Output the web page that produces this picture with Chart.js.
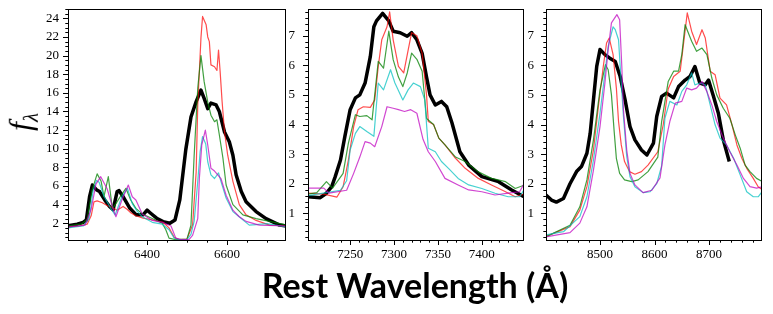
<!DOCTYPE html>
<html>
<head>
<meta charset="utf-8">
<script src="https://cdn.jsdelivr.net/npm/chart.js@4.4.1/dist/chart.umd.min.js"></script>
<style>
  html, body { margin: 0; padding: 0; background: #fff; }
  #fig { position: relative; width: 773px; height: 314px; overflow: hidden; }
  canvas { position: absolute; top: 0; }
  #ylab {
    position: absolute; left: 23px; top: 122px;
    transform: translate(-50%, -50%) rotate(-90deg);
    font-family: "Liberation Serif", serif; font-style: italic; font-size: 32px;
    white-space: nowrap; line-height: 1;
  }
  #ylab sub { font-size: 21px; }
  #xlab {
    position: absolute; left: 0; width: 830px; top: 265px; text-align: center;
    font-family: Lato, sans-serif; font-weight: 700; font-size: 34px; line-height: 40px;
  }
</style>
</head>
<body>
<div id="fig">
  <canvas id="haChart" width="290" height="275" style="left:0px"></canvas>
  <canvas id="caChart" width="288" height="275" style="left:240px"></canvas>
  <canvas id="irChart" width="288" height="275" style="left:478px"></canvas>
  <div id="ylab">f<sub>λ</sub></div>
  <div id="xlab">Rest Wavelength (Å)</div>
</div>
<script>
// Tick labels
const ha_xticks = [6400, 6600];
const ha_yticks = [2, 4, 6, 8, 10, 12, 14, 16, 18, 20, 22, 24];
const ca_xticks = [7250, 7300, 7350, 7400];
const ca_yticks = [1, 2, 3, 4, 5, 6, 7];
const ir_xticks = [8500, 8600, 8700];
const ir_yticks = [1, 2, 3, 4, 5, 6, 7];

// Panel 1: H-alpha region
const ha_black_wave = [6200, 6225, 6240, 6248, 6256, 6263, 6273, 6281, 6294, 6306, 6315, 6325, 6330, 6340, 6357, 6373, 6390, 6400, 6409, 6424, 6440, 6457, 6470, 6482, 6497, 6510, 6523, 6535, 6543, 6552, 6560, 6573, 6581, 6594, 6606, 6615, 6623, 6636, 6648, 6673, 6698, 6732, 6750];
const ha_black_flux = [1.7, 1.9, 2.1, 2.35, 4.85, 6.1, 5.6, 5.4, 4.5, 3.8, 3.45, 5.4, 5.5, 4.85, 3.6, 2.9, 2.9, 3.4, 3.07, 2.54, 2.17, 2.0, 2.35, 4.5, 9.9, 13.4, 15.05, 16.3, 15.4, 14.3, 14.9, 14.7, 14.0, 11.8, 10.75, 9.3, 7.2, 5.4, 4.3, 3.25, 2.5, 1.8, 1.7];
const ha_red_wave = [6200, 6230, 6250, 6260, 6267, 6275, 6288, 6300, 6312, 6325, 6340, 6350, 6360, 6372, 6390, 6415, 6440, 6455, 6468, 6480, 6500, 6514, 6523, 6527, 6535, 6539, 6548, 6552, 6556, 6560, 6569, 6575, 6579, 6583, 6588, 6594, 6602, 6615, 6631, 6648, 6673, 6707, 6750];
const ha_red_flux = [1.6, 1.7, 1.9, 2.8, 4.3, 4.4, 4.2, 3.9, 3.7, 3.4, 3.8, 3.5, 3.1, 2.8, 2.55, 2.35, 2.1, 1.5, 0.5, 0.25, 0.3, 1.8, 7.5, 14.7, 21.9, 24.2, 23.3, 22.0, 21.5, 19.0, 18.8, 18.4, 20.6, 18.3, 15.05, 11.8, 9.3, 6.5, 4.0, 2.9, 2.3, 1.8, 1.7];
const ha_green_wave = [6200, 6235, 6250, 6262, 6275, 6285, 6292, 6303, 6313, 6322, 6335, 6347, 6359, 6372, 6388, 6413, 6438, 6447, 6455, 6470, 6500, 6510, 6518, 6527, 6535, 6543, 6552, 6560, 6569, 6575, 6581, 6590, 6598, 6615, 6640, 6673, 6707, 6750];
const ha_green_flux = [1.7, 1.9, 2.4, 5.5, 7.3, 6.5, 4.85, 7.0, 3.6, 4.1, 5.0, 5.75, 4.5, 3.6, 3.0, 2.5, 2.0, 1.3, 0.4, 0.25, 0.3, 1.8, 9.3, 16.5, 20.0, 17.2, 15.0, 13.6, 12.9, 13.1, 11.5, 9.0, 6.1, 4.0, 2.9, 2.5, 2.2, 1.8];
const ha_cyan_wave = [6200, 6240, 6255, 6265, 6273, 6280, 6292, 6309, 6320, 6337, 6351, 6363, 6375, 6388, 6413, 6438, 6455, 6468, 6480, 6500, 6510, 6518, 6527, 6533, 6539, 6547, 6552, 6560, 6569, 6579, 6585, 6598, 6615, 6636, 6656, 6673, 6700, 6750];
const ha_cyan_flux = [1.5, 1.7, 2.5, 5.5, 6.6, 6.4, 4.9, 3.6, 2.9, 4.85, 5.75, 4.1, 3.3, 2.7, 2.1, 1.9, 1.3, 0.4, 0.25, 0.25, 0.8, 2.2, 6.5, 9.7, 11.3, 10.5, 8.6, 7.2, 6.8, 7.4, 6.5, 4.7, 3.25, 2.5, 1.8, 1.85, 1.95, 1.6];
const ha_magenta_wave = [6200, 6245, 6260, 6272, 6284, 6300, 6313, 6322, 6337, 6353, 6363, 6372, 6388, 6413, 6438, 6460, 6472, 6485, 6505, 6514, 6527, 6531, 6537, 6546, 6552, 6560, 6569, 6577, 6585, 6598, 6615, 6631, 6648, 6681, 6750];
const ha_magenta_flux = [1.6, 1.8, 3.5, 6.2, 7.0, 5.7, 3.8, 2.7, 4.5, 6.1, 4.85, 4.5, 3.0, 2.3, 2.1, 1.7, 0.4, 0.25, 0.25, 0.7, 2.5, 6.8, 10.4, 12.0, 10.4, 7.9, 7.6, 7.2, 6.8, 5.0, 3.4, 2.7, 2.2, 1.8, 1.7];

// Panel 2: 7300 region
const ca_black_wave = [7202, 7216, 7223, 7229, 7233, 7239, 7244, 7250, 7256, 7261, 7267, 7273, 7277, 7280, 7287, 7294, 7299, 7307, 7315, 7320, 7326, 7332, 7337, 7341, 7347, 7354, 7360, 7366, 7375, 7385, 7400, 7419, 7434, 7448];
const ca_black_flux = [1.56, 1.53, 1.68, 1.9, 2.24, 2.8, 3.6, 4.5, 4.9, 5.0, 5.4, 6.3, 7.3, 7.5, 7.75, 7.5, 7.15, 7.1, 6.98, 7.1, 6.86, 6.4, 5.6, 5.0, 4.66, 4.78, 4.6, 4.05, 3.08, 2.63, 2.24, 2.07, 1.79, 1.56];
const ca_red_wave = [7202, 7220, 7235, 7242, 7248, 7254, 7259, 7265, 7273, 7278, 7282, 7286, 7292, 7295, 7299, 7305, 7311, 7316, 7320, 7326, 7332, 7337, 7339, 7345, 7351, 7358, 7370, 7381, 7396, 7411, 7427, 7438, 7448];
const ca_red_flux = [1.68, 1.65, 1.55, 1.9, 2.8, 3.93, 4.5, 4.6, 4.58, 4.83, 5.96, 6.86, 7.3, 7.8, 6.86, 5.96, 5.74, 6.5, 7.1, 7.0, 6.4, 5.0, 4.1, 4.0, 3.54, 3.31, 2.86, 2.52, 2.18, 1.96, 1.73, 1.56, 1.65];
const ca_green_wave = [7202, 7212, 7223, 7230, 7242, 7248, 7256, 7261, 7269, 7275, 7282, 7288, 7294, 7299, 7305, 7310, 7315, 7320, 7326, 7332, 7337, 7345, 7351, 7358, 7370, 7381, 7396, 7411, 7427, 7438, 7448];
const ca_green_flux = [1.65, 1.7, 2.07, 1.85, 2.35, 3.37, 4.33, 4.27, 4.3, 4.16, 6.13, 5.9, 7.15, 6.19, 5.6, 5.28, 5.74, 6.41, 6.2, 5.8, 4.2, 4.0, 3.54, 3.31, 2.9, 2.75, 2.4, 2.18, 2.07, 1.84, 1.95];
const ca_cyan_wave = [7202, 7223, 7239, 7246, 7250, 7256, 7261, 7269, 7277, 7282, 7288, 7296, 7301, 7310, 7316, 7322, 7330, 7335, 7339, 7347, 7354, 7362, 7373, 7385, 7400, 7415, 7430, 7443, 7448];
const ca_cyan_flux = [1.6, 1.7, 1.78, 2.1, 3.14, 3.7, 3.93, 3.76, 3.6, 5.4, 5.17, 5.85, 5.4, 4.83, 5.17, 5.4, 5.28, 4.83, 3.2, 3.08, 2.75, 2.52, 2.18, 1.96, 1.84, 1.68, 1.56, 1.56, 1.79];
const ca_magenta_wave = [7202, 7220, 7226, 7246, 7254, 7261, 7267, 7273, 7278, 7286, 7292, 7299, 7305, 7312, 7319, 7326, 7333, 7339, 7347, 7358, 7373, 7385, 7400, 7415, 7430, 7443, 7448];
const ca_magenta_flux = [1.85, 1.85, 1.68, 1.78, 2.35, 2.9, 3.42, 3.37, 3.25, 3.93, 4.6, 4.55, 4.5, 4.44, 4.5, 4.38, 3.5, 3.08, 2.75, 2.18, 1.96, 1.79, 1.73, 1.62, 1.68, 1.73, 2.0];

// Panel 3: Ca II triplet region
const ir_black_wave = [8401, 8411, 8420, 8433, 8445, 8457, 8466, 8476, 8482, 8488, 8494, 8500, 8509, 8518, 8528, 8537, 8546, 8555, 8564, 8576, 8586, 8598, 8604, 8613, 8622, 8635, 8644, 8656, 8665, 8674, 8683, 8693, 8699, 8708, 8717, 8726, 8737];
const ir_black_flux = [1.62, 1.45, 1.38, 1.5, 2.0, 2.41, 2.58, 3.03, 3.7, 4.83, 5.96, 6.53, 6.36, 6.24, 6.13, 5.62, 4.83, 3.93, 3.48, 3.14, 2.97, 3.37, 4.27, 4.95, 5.06, 4.9, 5.28, 5.5, 5.62, 5.96, 5.4, 5.34, 5.5, 4.95, 4.38, 3.48, 2.75];
const ir_red_wave = [8400, 8445, 8463, 8476, 8488, 8497, 8506, 8512, 8517, 8524, 8530, 8534, 8539, 8545, 8554, 8564, 8576, 8588, 8606, 8616, 8625, 8635, 8647, 8653, 8660, 8668, 8677, 8687, 8693, 8702, 8711, 8720, 8732, 8742, 8751, 8760, 8769, 8781, 8790, 8798];
const ir_red_flux = [0.21, 0.55, 1.11, 1.9, 3.14, 4.6, 5.96, 6.75, 6.92, 6.36, 5.23, 4.1, 3.31, 2.75, 2.41, 2.32, 2.41, 2.63, 3.08, 4.0, 5.2, 5.62, 5.8, 6.7, 7.77, 7.15, 6.7, 7.2, 6.92, 5.8, 5.68, 4.89, 4.66, 3.99, 3.31, 2.86, 2.52, 2.18, 1.9, 1.79];
const ir_green_wave = [8400, 8445, 8463, 8476, 8488, 8500, 8510, 8515, 8521, 8526, 8530, 8536, 8545, 8558, 8570, 8588, 8606, 8613, 8625, 8635, 8644, 8650, 8656, 8668, 8677, 8687, 8696, 8705, 8714, 8726, 8738, 8748, 8757, 8766, 8775, 8787, 8798];
const ir_green_flux = [0.2, 0.6, 1.22, 2.13, 3.48, 5.17, 6.02, 5.85, 5.0, 3.76, 2.86, 2.35, 2.13, 2.07, 2.13, 2.41, 2.9, 4.1, 5.45, 5.8, 5.8, 6.36, 7.37, 6.81, 6.47, 6.58, 6.36, 5.57, 5.0, 4.55, 4.21, 3.65, 3.2, 2.63, 2.41, 2.18, 2.07];
const ir_cyan_wave = [8400, 8433, 8463, 8476, 8488, 8500, 8509, 8515, 8524, 8528, 8534, 8537, 8543, 8549, 8555, 8564, 8579, 8592, 8604, 8613, 8619, 8628, 8641, 8650, 8659, 8668, 8674, 8683, 8693, 8702, 8711, 8720, 8732, 8745, 8757, 8769, 8781, 8790, 8798];
const ir_cyan_flux = [0.27, 0.38, 0.89, 1.56, 2.8, 4.38, 5.74, 6.64, 7.3, 7.2, 6.86, 5.96, 4.27, 2.92, 2.24, 1.9, 1.7, 1.73, 2.0, 2.6, 4.21, 4.78, 4.66, 5.12, 5.34, 5.74, 5.34, 5.4, 5.34, 4.66, 3.99, 3.54, 3.31, 2.86, 2.3, 1.73, 1.56, 1.56, 1.75];
const ir_magenta_wave = [8400, 8445, 8463, 8476, 8488, 8500, 8509, 8515, 8521, 8531, 8536, 8540, 8543, 8549, 8555, 8564, 8579, 8595, 8610, 8619, 8628, 8638, 8650, 8659, 8668, 8677, 8687, 8696, 8705, 8714, 8726, 8738, 8751, 8763, 8775, 8787, 8798];
const ir_magenta_flux = [0.2, 0.35, 0.67, 1.22, 2.46, 3.93, 5.4, 6.53, 7.43, 7.71, 7.54, 5.96, 4.5, 3.14, 2.35, 1.96, 1.7, 1.78, 2.2, 3.31, 4.1, 4.72, 4.78, 5.23, 5.17, 5.23, 5.45, 5.11, 4.66, 4.1, 3.54, 3.08, 2.63, 2.18, 1.9, 1.85, 1.9];

const COLORS = {
    black: '#000000',
    red: 'rgba(255, 0, 0, 0.7)',
    green: 'rgba(0, 128, 0, 0.75)',
    cyan: 'rgba(0, 191, 191, 0.72)',
    magenta: 'rgba(191, 0, 191, 0.72)'
};

// Frame + outward minor/major tick marks (matplotlib style)
const frameTicks = {
    id: 'frameTicks',
    afterDraw(chart, args, opts) {
        const { ctx, chartArea: a } = chart;
        const xs = chart.scales.x, ys = chart.scales.y;
        ctx.save();
        ctx.strokeStyle = '#000';
        ctx.lineWidth = 1;
        ctx.strokeRect(a.left + 0.5, a.top + 0.5, a.right - a.left - 1, a.bottom - a.top);
        ctx.beginPath();
        const isMajor = (v, step) => Math.abs(v / step - Math.round(v / step)) < 1e-6;
        // x ticks
        const kx0 = Math.ceil(xs.min / opts.xMinor), kx1 = Math.floor(xs.max / opts.xMinor);
        for (let k = kx0; k <= kx1; k++) {
            const v = k * opts.xMinor;
            const px = Math.round(xs.getPixelForValue(v)) + 0.5;
            const len = isMajor(v, opts.xMajor) ? 5 : 2.7;
            ctx.moveTo(px, a.bottom);
            ctx.lineTo(px, a.bottom + len);
        }
        // y ticks
        const ky0 = Math.ceil(ys.min / opts.yMinor - 1e-9), ky1 = Math.floor(ys.max / opts.yMinor + 1e-9);
        for (let k = ky0; k <= ky1; k++) {
            const v = k * opts.yMinor;
            const py = Math.round(ys.getPixelForValue(v)) + 0.5;
            const len = isMajor(v, opts.yMajor) ? 5 : 2.7;
            ctx.moveTo(a.left, py);
            ctx.lineTo(a.left - len, py);
        }
        ctx.stroke();
        ctx.restore();
    }
};

function makeSeries(wave, flux, color, width, order) {
    return {
        data: wave.map((w, i) => ({ x: w, y: flux[i] })),
        borderColor: color,
        borderWidth: width,
        borderJoinStyle: 'round',
        pointRadius: 0,
        fill: false,
        tension: 0,
        order: order
    };
}

function makePanel(canvasId, cfg) {
    const tickFont = { family: '"Liberation Serif", serif', size: 13 };
    return new Chart(document.getElementById(canvasId), {
        type: 'line',
        data: { datasets: cfg.datasets },
        plugins: [frameTicks],
        options: {
            responsive: false,
            animation: false,
            events: [],
            layout: { padding: { left: 0, right: 4, top: 9, bottom: 0 } },
            plugins: {
                legend: { display: false },
                tooltip: { enabled: false },
                frameTicks: cfg.tickSteps
            },
            scales: {
                x: {
                    type: 'linear',
                    min: cfg.xMin, max: cfg.xMax,
                    grid: { display: false, drawTicks: false },
                    border: { display: false },
                    afterBuildTicks: s => { s.ticks = cfg.xTicks.map(v => ({ value: v })); },
                    afterFit: s => { s.height = 35; s.paddingLeft = 0; s.paddingRight = 0; },
                    ticks: {
                        autoSkip: false, maxRotation: 0, padding: 7,
                        color: '#000', font: tickFont,
                        callback: v => String(v)
                    }
                },
                y: {
                    min: cfg.yMin, max: cfg.yMax,
                    grid: { display: false, drawTicks: false },
                    border: { display: false },
                    afterBuildTicks: s => { s.ticks = cfg.yTicks.map(v => ({ value: v })); },
                    afterFit: s => { s.width = 68; s.paddingTop = 0; s.paddingBottom = 0; },
                    ticks: {
                        autoSkip: false, padding: cfg.yPad,
                        color: '#000', font: tickFont,
                        callback: v => String(v)
                    }
                }
            }
        }
    });
}

makePanel('haChart', {
    xMin: 6202, xMax: 6748, yMin: 0.2, yMax: 25,
    xTicks: ha_xticks, yTicks: ha_yticks, yPad: 9,
    tickSteps: { xMinor: 50, xMajor: 200, yMinor: 0.5, yMajor: 2 },
    datasets: [
        makeSeries(ha_black_wave, ha_black_flux, COLORS.black, 3.5, 5),
        makeSeries(ha_red_wave, ha_red_flux, COLORS.red, 1.2, 4),
        makeSeries(ha_green_wave, ha_green_flux, COLORS.green, 1.2, 3),
        makeSeries(ha_cyan_wave, ha_cyan_flux, COLORS.cyan, 1.2, 2),
        makeSeries(ha_magenta_wave, ha_magenta_flux, COLORS.magenta, 1.2, 1)
    ]
});

makePanel('caChart', {
    xMin: 7202, xMax: 7448, yMin: 0.1, yMax: 7.9,
    xTicks: ca_xticks, yTicks: ca_yticks, yPad: 13,
    tickSteps: { xMinor: 10, xMajor: 50, yMinor: 0.2, yMajor: 1 },
    datasets: [
        makeSeries(ca_black_wave, ca_black_flux, COLORS.black, 3.5, 5),
        makeSeries(ca_red_wave, ca_red_flux, COLORS.red, 1.2, 4),
        makeSeries(ca_green_wave, ca_green_flux, COLORS.green, 1.2, 3),
        makeSeries(ca_cyan_wave, ca_cyan_flux, COLORS.cyan, 1.2, 2),
        makeSeries(ca_magenta_wave, ca_magenta_flux, COLORS.magenta, 1.2, 1)
    ]
});

makePanel('irChart', {
    xMin: 8401, xMax: 8797, yMin: 0.1, yMax: 7.9,
    xTicks: ir_xticks, yTicks: ir_yticks, yPad: 12,
    tickSteps: { xMinor: 20, xMajor: 100, yMinor: 0.2, yMajor: 1 },
    datasets: [
        makeSeries(ir_black_wave, ir_black_flux, COLORS.black, 3.5, 5),
        makeSeries(ir_red_wave, ir_red_flux, COLORS.red, 1.2, 4),
        makeSeries(ir_green_wave, ir_green_flux, COLORS.green, 1.2, 3),
        makeSeries(ir_cyan_wave, ir_cyan_flux, COLORS.cyan, 1.2, 2),
        makeSeries(ir_magenta_wave, ir_magenta_flux, COLORS.magenta, 1.2, 1)
    ]
});
</script>
</body>
</html>
